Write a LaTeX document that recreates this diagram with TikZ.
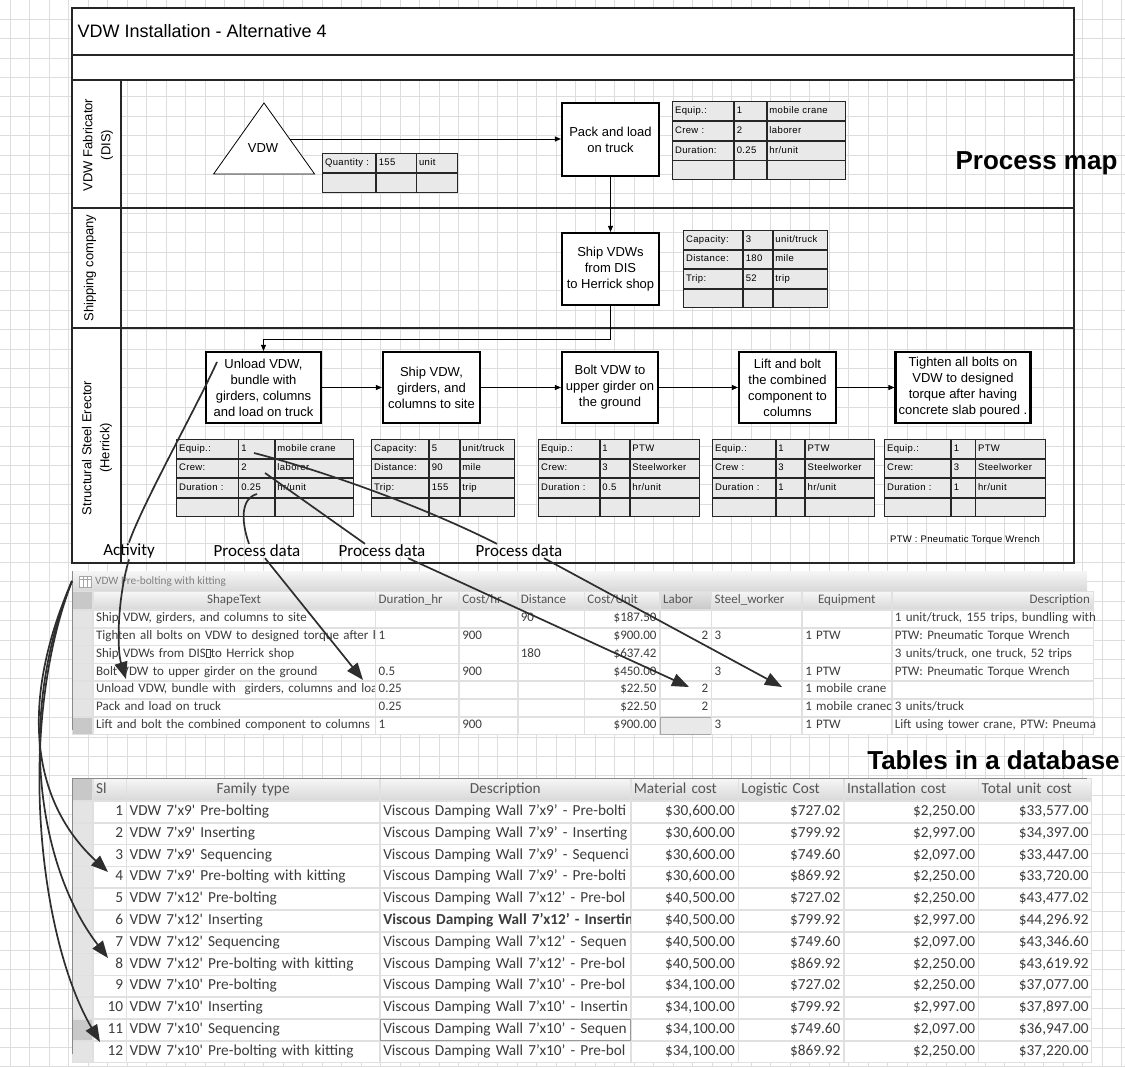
\documentclass[tikz,border=0pt]{standalone}
\usepackage{fontspec}
\setmainfont{Liberation Sans}
\newfontfamily\dbfont{Carlito}
\newfontfamily\cellfont[LetterSpace=4]{Liberation Sans}
\usetikzlibrary{arrows.meta,positioning,matrix,calc}
\definecolor{GridLine}{HTML}{DDDDDD}
\definecolor{CellGray}{HTML}{E9E9E9}
\definecolor{SelGray}{HTML}{E4E4E4}
\definecolor{SelDark}{HTML}{C8C8C8}
\definecolor{HdrTop}{HTML}{F6F6F6}
\definecolor{HdrBot}{HTML}{D8D8D8}
\definecolor{DbLine}{HTML}{E0E0E0}
\definecolor{DbText}{HTML}{3C3C3C}
\definecolor{HdrText}{HTML}{555555}
\definecolor{ArrGray}{HTML}{2E2E2E}
\definecolor{EdgeGray}{HTML}{8A8A8A}
\newcommand{\ft}{\textquotesingle}
\newcommand{\boxchar}{{\setlength{\fboxsep}{0pt}\setlength{\fboxrule}{0.5pt}\fbox{\rule{0pt}{8pt}\hspace{4pt}}}}
\tikzset{
  gridln/.style={draw=GridLine,line width=0.6pt},
  frame/.style={draw=black!85,line width=1.3pt},
  lane/.style={rotate=90,align=center,font=\fontsize{13}{18}\selectfont},
  pbox/.style={rectangle,draw,line width=2.2pt,fill=white,align=center,
               inner sep=1pt,font=\fontsize{13}{16}\selectfont},
  flow/.style={-{Triangle[length=6pt,width=5pt]},line width=0.9pt},
  vcell/.style={draw=black!85,line width=0.7pt,fill=CellGray,outer sep=0pt,
                inner xsep=2.5pt,inner ysep=0pt,minimum height=18.75pt,
                text height=7.2pt,text depth=2pt,align=left,
                font=\cellfont\fontsize{9.5}{10}\selectfont},
  vtab/.style n args={3}{matrix of nodes,nodes in empty cells,anchor=north west,
                inner sep=0pt,column sep=0pt,row sep=0pt,nodes={vcell},
                column 1/.style={nodes={text width=#1}},
                column 2/.style={nodes={text width=#2}},
                column 3/.style={nodes={text width=#3}}},
  lbl/.style={inner sep=1pt,font=\dbfont\fontsize{17}{19}\selectfont},
  callout/.style={draw=ArrGray,line width=1.7pt},
  dbarr/.style={callout,-{Triangle[length=17pt,width=13pt]}},
  dbtab/.style={matrix of nodes,nodes in empty cells,anchor=north west,
                inner sep=0pt,column sep=0pt,row sep=0pt},
  dbcell/.style={draw=DbLine,line width=0.6pt,fill=white,outer sep=0pt,
                 inner xsep=3pt,inner ysep=0pt,text=DbText,align=left,
                 execute at begin node=\hbox\bgroup,execute at end node=\egroup},
  dbhead/.style={top color=HdrTop,bottom color=HdrBot,text=HdrText},
  tbarbox/.style={rectangle,minimum width=1015pt,minimum height=20pt,inner sep=0pt,
                  outer sep=0pt,top color=HdrTop,bottom color=HdrBot},
  big/.style={font=\bfseries\fontsize{26}{28}\selectfont}
}
\begin{document}
\begin{tikzpicture}[x=1pt,y=-1pt]
\useasboundingbox (0,0) rectangle (1125,1067);
\fill[white] (0,0) rectangle (1125,1067);
% drawing-page grid
\foreach \gx in {0,...,57}
  \draw[gridln] ({10+19.5*\gx},0) -- ({10+19.5*\gx},1067);
\foreach \gy in {0,...,54}
  \draw[gridln] (0,{19.1+19.4*\gy}) -- (1125,{19.1+19.4*\gy});

% swimlanes
\fill[white] (72,8) rectangle (1074,80);
\fill[white] (72,80) rectangle (121,563);
\draw[frame] (72,8) rectangle (1074,563);
\draw[frame] (72,55) -- (1074,55);
\draw[frame] (72,80) -- (1074,80);
\draw[frame] (121,80) -- (121,563);
\draw[frame] (72,208) -- (1074,208);
\draw[frame] (72,328) -- (1074,328);
\node[anchor=west,font=\fontsize{18}{20}\selectfont] (ttl) at (74,31) {VDW Installation - Alternative 4};
\node[lane] (laneDIS) at (98,145) {VDW Fabricator\\(DIS)};
\node[lane] (laneShip) at (90,268) {Shipping company};
\node[lane] (laneErect) at (97,448) {Structural Steel Erector\\(Herrick)};

% fabricator lane
\draw[fill=white,line width=0.8pt] (264,103) -- (314.6,174) -- (213.6,174) -- cycle;
\node[font=\fontsize{13}{15}\selectfont] (vdw) at (263,148) {VDW};
\coordinate (vdwR) at (289.7,139);
\node[pbox,minimum width=97pt,minimum height=73pt] (pack) at (610.5,139.5) {Pack and load\\on truck};
\matrix[vtab={48pt}{34.6pt}{35.4pt},nodes={minimum height=19pt}] (tabQty) at (322,152.7) {
  Quantity : & 155 & unit \\
  & & \\
};
\matrix[vtab={56pt}{27pt}{73pt},nodes={minimum height=19pt}] (tabPack) at (672,101) {
  Equip.: & 1 & mobile crane \\
  Crew : & 2 & laborer \\
  Duration: & 0.25 & hr/unit \\
  & & \\
};

% shipping lane
\node[pbox,minimum width=97pt,minimum height=72pt] (shipdis) at (610.5,269) {Ship VDWs\\from DIS\\to Herrick shop};
\matrix[vtab={54pt}{24pt}{49pt}] (tabShip) at (683,230) {
  Capacity: & 3 & unit/truck \\
  Distance: & 180 & mile \\
  Trip: & 52 & trip \\
  & & \\
};

% erector lane
\node[pbox,minimum width=115pt,minimum height=71pt] (unload) at (263.5,387.5) {Unload VDW,\\bundle with\\girders, columns\\and load on truck};
\node[pbox,minimum width=97pt,minimum height=71pt] (shipsite) at (431.5,387.5) {Ship VDW,\\girders, and\\columns to site};
\node[pbox,minimum width=96pt,minimum height=71pt] (boltg) at (610,387.5) {Bolt VDW to\\upper girder on\\the ground};
\node[pbox,minimum width=97pt,minimum height=71pt] (liftc) at (787.5,387.5) {Lift and bolt\\the combined\\component to\\columns};
\node[pbox,minimum width=135pt,minimum height=71pt] (tighten) at (963,387.5) {Tighten all bolts on\\VDW to designed\\torque after having\\concrete slab poured .};
\matrix[vtab={56.5pt}{30.5pt}{73pt}] (tabUnl) at (176,439) {
  Equip.: & 1 & mobile crane \\
  Crew: & 2 & laborer \\
  Duration : & 0.25 & hr/unit \\
  & & \\
};
\matrix[vtab={52pt}{25pt}{49.5pt}] (tabSite) at (371,439) {
  Capacity: & 5 & unit/truck \\
  Distance: & 90 & mile \\
  Trip: & 155 & trip \\
  & & \\
};
\matrix[vtab={55.6pt}{24.4pt}{64.5pt}] (tabBolt) at (538,439) {
  Equip.: & 1 & PTW \\
  Crew: & 3 & Steelworker \\
  Duration : & 0.5 & hr/unit \\
  & & \\
};
\matrix[vtab={57.6pt}{23.6pt}{64.3pt}] (tabLift) at (712,439) {
  Equip.: & 1 & PTW \\
  Crew : & 3 & Steelworker \\
  Duration : & 1 & hr/unit \\
  & & \\
};
\matrix[vtab={61pt}{18.6pt}{64.4pt}] (tabTight) at (884,439) {
  Equip.: & 1 & PTW \\
  Crew: & 3 & Steelworker \\
  Duration : & 1 & hr/unit \\
  & & \\
};
\node[font=\cellfont\fontsize{9.5}{10}\selectfont] (ptw) at (965,540) {PTW : Pneumatic Torque Wrench};

% flow
\draw[flow] (vdwR) -- (vdwR -| pack.west);
\draw[flow] (pack) -- (shipdis);
\draw[flow] (shipdis.south) -- ++(0,33) -| (unload.north);
\draw[flow] (unload) -- (shipsite);
\draw[flow] (shipsite) -- (boltg);
\draw[flow] (boltg) -- (liftc);
\draw[flow] (liftc) -- (tighten);

% callouts into the map
\node[lbl] (lblAct) at (129,551) {Activity};
\node[lbl] (lblPd1) at (257,551) {Process data};
\node[lbl] (lblPd2) at (382,551) {Process data};
\node[lbl] (lblPd3) at (519,551) {Process data};
\coordinate (hitAct) at (217,362);
\coordinate (hitDur) at (257,494);
\coordinate (hitCrew) at (265,473);
\coordinate (hitEq) at (254,453);
\draw[callout] (lblAct.north) .. controls (142,505) and (195,410) .. (hitAct);
\draw[callout] ([xshift=-8pt]lblPd1.north) .. controls (240,518) and (242,498) .. (hitDur);
\draw[callout] ([xshift=-17pt]lblPd2.north) -- (hitCrew);
\draw[callout] ([xshift=-22pt]lblPd3.north) .. controls (420,505) and (320,470) .. (hitEq);
\node[big] (pmap) at (1036.5,163) {Process map};

% activity table
\node[tbarbox,anchor=north west] (tbarA) at (72,571) {};
\draw[gray!70,fill=white,line width=0.5pt] (79,576) rectangle (91,587);
\draw[gray!70,line width=0.5pt] (79,579.5) -- (91,579.5) (83,576) -- (83,587) (87,576) -- (87,587);
\node[anchor=west,inner sep=0pt,text=gray,font=\dbfont\fontsize{11.3}{13}\selectfont] (tbarTxt) at (95,581.5) {VDW Pre-bolting with kitting};
\matrix[dbtab,
  nodes={dbcell,minimum height=17.2pt,text height=9pt,text depth=3pt,
         font=\dbfont\fontsize{13}{15}\selectfont},
  row 1/.style={nodes={dbhead,minimum height=18pt,align=left}},
  column 1/.style={nodes={fill=SelGray,text width=14pt}},
  column 2/.style={nodes={text width=276pt}},
  column 3/.style={nodes={text width=77pt}},
  column 4/.style={nodes={text width=52pt}},
  column 5/.style={nodes={text width=60pt}},
  column 6/.style={nodes={text width=69pt,align=right}},
  column 7/.style={nodes={text width=45pt,align=right}},
  column 8/.style={nodes={text width=84pt}},
  column 9/.style={nodes={text width=83pt}},
  column 10/.style={nodes={text width=195pt}}] (tblA) at (72,591) {
  |[top color=SelDark,bottom color=SelDark]| & |[align=center]| ShapeText & Duration\_hr & Cost/hr & Distance & Cost/Unit & |[top color=SelGray,bottom color=SelDark]| Labor & Steel\_worker & |[align=center]| Equipment & |[align=right]| Description \\
  & Ship VDW, girders, and columns to site & & & 90 & \$187.50 & & & & 1 unit/truck, 155 trips, bundling with \\
  & Tighten all bolts on VDW to designed torque after h & 1 & 900 & & \$900.00 & 2 & 3 & 1 PTW & PTW: Pneumatic Torque Wrench \\
  & Ship VDWs from DIS\boxchar to Herrick shop & & & 180 & \$637.42 & & & & 3 units/truck, one truck, 52 trips \\
  & Bolt VDW to upper girder on the ground & 0.5 & 900 & & \$450.00 & & 3 & 1 PTW & PTW: Pneumatic Torque Wrench \\
  & Unload VDW, bundle with\ \ girders, columns and loa & 0.25 & & & \$22.50 & 2 & & 1 mobile crane & \\
  & Pack and load on truck & 0.25 & & & \$22.50 & 2 & & 1 mobile cranec & 3 units/truck \\
  |[fill=SelDark]| & Lift and bolt the combined component to columns & 1 & 900 & & \$900.00 & |[fill=CellGray,draw=gray!70]| & 3 & 1 PTW & Lift using tower crane, PTW: Pneuma \\
};
\draw[EdgeGray,line width=1pt] (72,571) -- (72,730);

% family table
\node[big] (tdb) at (993.5,760) {Tables in a database};
\matrix[dbtab,
  nodes={dbcell,minimum height=21.2pt,text height=11pt,text depth=3.5pt,
         font=\dbfont\fontsize{15.3}{17}\selectfont},
  row 1/.style={nodes={dbhead,minimum height=22pt,align=left}},
  column 1/.style={nodes={fill=SelGray,text width=14pt}},
  column 2/.style={nodes={text width=27pt,align=right}},
  column 3/.style={nodes={text width=247pt}},
  column 4/.style={nodes={text width=244pt}},
  column 5/.style={nodes={text width=101pt,align=right}},
  column 6/.style={nodes={text width=99pt,align=right}},
  column 7/.style={nodes={text width=128pt,align=right}},
  column 8/.style={nodes={text width=107pt,align=right}}] (tblB) at (72,778) {
  |[top color=SelDark,bottom color=SelDark]| & Sl & |[align=center]| Family type & |[align=center]| Description & Material cost & Logistic Cost & Installation cost & Total unit cost \\
  & 1 & VDW 7\ft x9\ft{} Pre-bolting & Viscous Damping Wall 7’x9’ - Pre-bolti & \$30,600.00 & \$727.02 & \$2,250.00 & \$33,577.00 \\
  & 2 & VDW 7\ft x9\ft{} Inserting & Viscous Damping Wall 7’x9’ - Inserting & \$30,600.00 & \$799.92 & \$2,997.00 & \$34,397.00 \\
  & 3 & VDW 7\ft x9\ft{} Sequencing & Viscous Damping Wall 7’x9’ - Sequenci & \$30,600.00 & \$749.60 & \$2,097.00 & \$33,447.00 \\
  & 4 & VDW 7\ft x9\ft{} Pre-bolting with kitting & Viscous Damping Wall 7’x9’ - Pre-bolti & \$30,600.00 & \$869.92 & \$2,250.00 & \$33,720.00 \\
  & 5 & VDW 7\ft x12\ft{} Pre-bolting & Viscous Damping Wall 7’x12’ - Pre-bol & \$40,500.00 & \$727.02 & \$2,250.00 & \$43,477.02 \\
  & 6 & VDW 7\ft x12\ft{} Inserting & |[font=\dbfont\bfseries\fontsize{15.3}{17}\selectfont]| Viscous Damping Wall 7’x12’ - Insertin & \$40,500.00 & \$799.92 & \$2,997.00 & \$44,296.92 \\
  & 7 & VDW 7\ft x12\ft{} Sequencing & Viscous Damping Wall 7’x12’ - Sequen & \$40,500.00 & \$749.60 & \$2,097.00 & \$43,346.60 \\
  & 8 & VDW 7\ft x12\ft{} Pre-bolting with kitting & Viscous Damping Wall 7’x12’ - Pre-bol & \$40,500.00 & \$869.92 & \$2,250.00 & \$43,619.92 \\
  & 9 & VDW 7\ft x10\ft{} Pre-bolting & Viscous Damping Wall 7’x10’ - Pre-bol & \$34,100.00 & \$727.02 & \$2,250.00 & \$37,077.00 \\
  & 10 & VDW 7\ft x10\ft{} Inserting & Viscous Damping Wall 7’x10’ - Insertin & \$34,100.00 & \$799.92 & \$2,997.00 & \$37,897.00 \\
  |[fill=SelDark]| & 11 & VDW 7\ft x10\ft{} Sequencing & |[draw=gray!80]| Viscous Damping Wall 7’x10’ - Sequen & \$34,100.00 & \$749.60 & \$2,097.00 & \$36,947.00 \\
  & 12 & VDW 7\ft x10\ft{} Pre-bolting with kitting & Viscous Damping Wall 7’x10’ - Pre-bol & \$34,100.00 & \$869.92 & \$2,250.00 & \$37,220.00 \\
};
\draw[EdgeGray,line width=1pt] (72,1054) -- (72,778) -- (1087,778);

% links from map to tables
\coordinate (tipAct) at (126,679);
\coordinate (tipDur) at (363,680);
\coordinate (tipLab) at (689,687);
\coordinate (tipEq) at (782,687);
\draw[dbarr] (lblAct.south) .. controls (117,600) and (117,650) .. (tipAct);
\draw[dbarr] ([xshift=8pt]lblPd1.south) -- (tipDur);
\draw[dbarr] ([xshift=26pt]lblPd2.south) -- (tipLab);
\draw[dbarr] ([xshift=25pt]lblPd3.south) -- (tipEq);
\coordinate (tipR4) at (108,872);
\coordinate (tipR8) at (108,958);
\coordinate (tipR12) at (100,1042);
\draw[dbarr] (tbarA.west) .. controls (20,700) and (30,800) .. (tipR4);
\draw[dbarr] (tbarA.west) .. controls (15,720) and (40,870) .. (tipR8);
\draw[dbarr] (tbarA.west) .. controls (15,730) and (40,940) .. (tipR12);
\end{tikzpicture}
\end{document}
